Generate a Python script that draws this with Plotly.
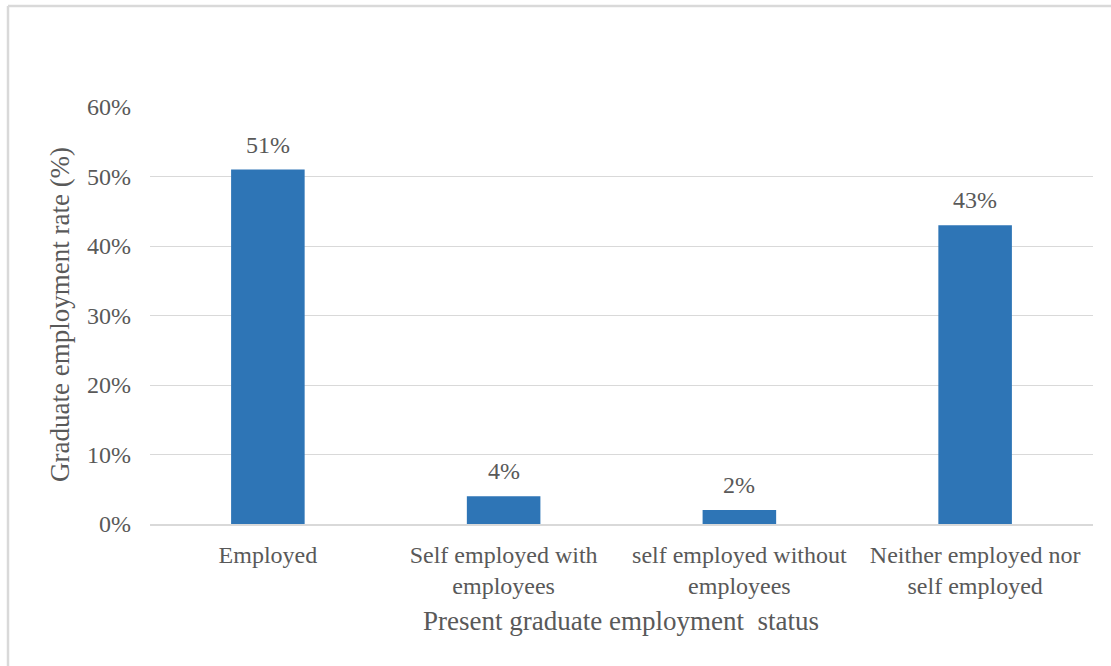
import plotly.graph_objects as go

# Survey results: present employment status of graduates
categories = [
    "Employed",
    "Self employed with<br>employees",
    "self employed without<br>employees",
    "Neither employed nor<br>self employed",
]
rates = [0.51, 0.04, 0.02, 0.43]
value_labels = ["51%", "4%", "2%", "43%"]
y_tick_values = [0, 0.1, 0.2, 0.3, 0.4, 0.5, 0.6]
y_tick_labels = ["0%", "10%", "20%", "30%", "40%", "50%", "60%"]

FONT = "Liberation Serif"
TEXT = "#595959"
BAR = "#2E75B6"
GRID = "#D9D9D9"

W, H = 1111, 666
L, R, T, B = 150, 18, 107, 142
PW, PH = W - L - R, H - T - B


def px_x(px):
    return (px - L) / PW


def px_y(py):
    return (H - B - py) / PH


fig = go.Figure(
    go.Bar(
        x=categories,
        y=rates,
        marker=dict(color=BAR, line=dict(width=0)),
        hoverinfo="skip",
    )
)

# value labels above each bar
for cat, val, lab in zip(categories, rates, value_labels):
    fig.add_annotation(
        x=cat, y=val, text=lab, showarrow=False,
        yanchor="bottom", yshift=10,
        font=dict(family=FONT, size=24, color=TEXT),
    )

# axis titles
fig.add_annotation(
    xref="paper", yref="paper", x=px_x(60), y=px_y(315),
    text="Graduate employment rate (%)", textangle=-90, showarrow=False,
    xanchor="center", yanchor="middle",
    font=dict(family=FONT, size=27, color=TEXT),
)
fig.add_annotation(
    xref="paper", yref="paper", x=px_x(621), y=px_y(621),
    text="Present graduate employment  status", showarrow=False,
    xanchor="center", yanchor="middle",
    font=dict(family=FONT, size=27, color=TEXT),
)

# chart frame (left and top edges)
frame = dict(color=GRID, width=2.5)
fig.add_shape(type="line", xref="paper", yref="paper",
              x0=px_x(8), x1=px_x(8), y0=px_y(680), y1=px_y(6), line=frame)
fig.add_shape(type="line", xref="paper", yref="paper",
              x0=px_x(8), x1=px_x(1130), y0=px_y(6), y1=px_y(6), line=frame)

fig.update_layout(
    width=W, height=H,
    margin=dict(l=L, r=R, t=T, b=B, autoexpand=False),
    paper_bgcolor="white", plot_bgcolor="white",
    bargap=0.688,
    showlegend=False,
    font=dict(family=FONT, size=24, color=TEXT),
    xaxis=dict(
        showgrid=False, showline=True, linecolor=GRID, linewidth=1.5,
        ticks="", ticklabelstandoff=8,
        tickfont=dict(family=FONT, size=24, color=TEXT),
        fixedrange=True,
    ),
    yaxis=dict(
        range=[0, 0.6], tickvals=y_tick_values, ticktext=y_tick_labels,
        showgrid=True, gridcolor=GRID, gridwidth=1.2,
        zeroline=False, showline=False, ticks="",
        ticklabelstandoff=18,
        tickfont=dict(family=FONT, size=24, color=TEXT),
        fixedrange=True,
    ),
)

fig.write_html("out.html")
